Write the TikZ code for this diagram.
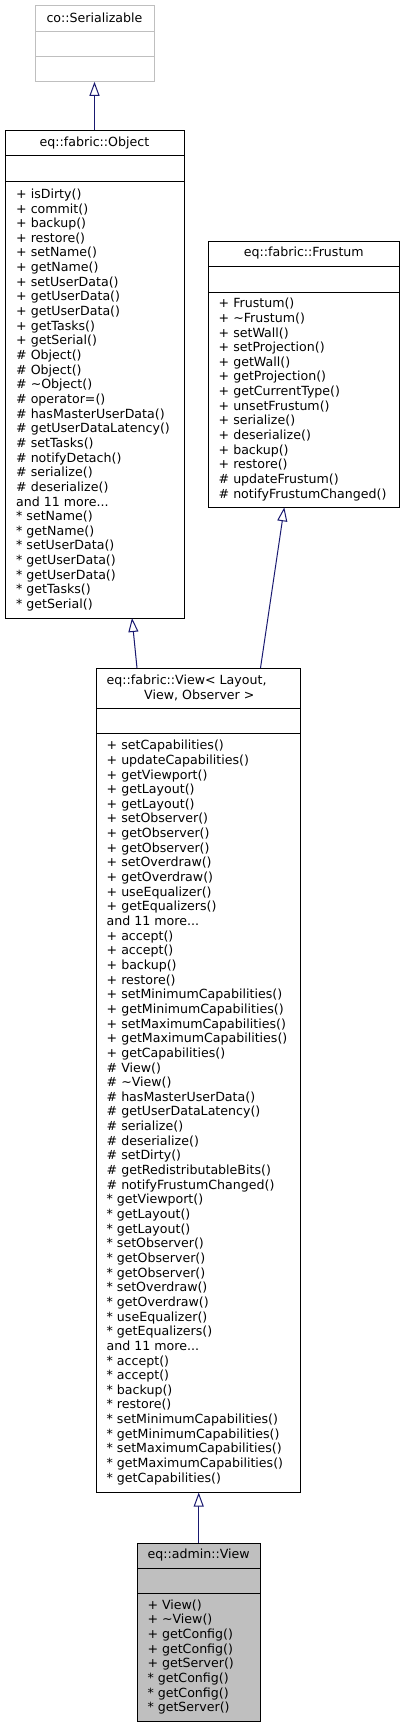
\documentclass[tikz,border=0pt]{standalone}
\usepackage{fontspec}
\setmainfont{DejaVu Sans}
\usetikzlibrary{arrows.meta}
\definecolor{edgeblue}{HTML}{191970}
\definecolor{boxgray}{HTML}{BFBFBF}
\tikzset{
  umlframe/.style={draw=black, line width=1pt, fill=white, inner sep=0pt},
  umlline/.style={draw=black, line width=1pt},
  umltext/.style={inner sep=0pt, font=\fontsize{12.6}{14.65}\selectfont, text=black},
  inherit/.style={draw=edgeblue, line width=1pt, -{Triangle[open, length=14pt, width=10pt, fill=white]}},
}
\begin{document}
\begin{tikzpicture}[x=1pt,y=-1pt]
\useasboundingbox (0,0) rectangle (404,1728);

% co::Serializable
\node[umlframe, draw=boxgray, minimum width=119pt, minimum height=76pt] (ser) at (94.5,43.3) {};
\draw[umlline, draw=boxgray] (35,31.3) -- (154,31.3);
\draw[umlline, draw=boxgray] (35,56.7) -- (154,56.7);
\node[umltext] (ser-h) at (94.5,18.3) {co::Serializable};

% eq::fabric::Object
\node[umlframe, minimum width=179pt, minimum height=487pt] (obj) at (94.5,374.5) {};
\draw[umlline] (5,156) -- (184,156);
\draw[umlline] (5,182) -- (184,182);
\node[umltext] (obj-h) at (94.5,143.5) {eq::fabric::Object};
\node[umltext, anchor=west, align=left] (obj-b) at (16,400) {%
+ isDirty()\\
+ commit()\\
+ backup()\\
+ restore()\\
+ setName()\\
+ getName()\\
+ setUserData()\\
+ getUserData()\\
+ getUserData()\\
+ getTasks()\\
+ getSerial()\\
\# Object()\\
\# Object()\\
\# \textasciitilde Object()\\
\# operator=()\\
\# hasMasterUserData()\\
\# getUserDataLatency()\\
\# setTasks()\\
\# notifyDetach()\\
\# serialize()\\
\# deserialize()\\
and 11 more...\\
* setName()\\
* getName()\\
* setUserData()\\
* getUserData()\\
* getUserData()\\
* getTasks()\\
* getSerial()};

% eq::fabric::Frustum
\node[umlframe, minimum width=191pt, minimum height=266pt] (fru) at (303.8,374.3) {};
\draw[umlline] (208.3,266) -- (399.3,266);
\draw[umlline] (208.3,292) -- (399.3,292);
\node[umltext] (fru-h) at (303.8,253.5) {eq::fabric::Frustum};
\node[umltext, anchor=west, align=left] (fru-b) at (218.5,399.5) {%
+ Frustum()\\
+ \textasciitilde Frustum()\\
+ setWall()\\
+ setProjection()\\
+ getWall()\\
+ getProjection()\\
+ getCurrentType()\\
+ unsetFrustum()\\
+ serialize()\\
+ deserialize()\\
+ backup()\\
+ restore()\\
\# updateFrustum()\\
\# notifyFrustumChanged()};

% eq::fabric::View< Layout, View, Observer >
\node[umlframe, minimum width=204pt, minimum height=824pt] (view) at (198.7,1080) {};
\draw[umlline] (96.7,708) -- (300.7,708);
\draw[umlline] (96.7,733) -- (300.7,733);
\node[umltext, anchor=west, align=left] (view-h) at (106.5,688) {eq::fabric::View< Layout,\\\hspace*{37.5pt}View, Observer >};
\node[umltext, anchor=west, align=left] (view-b) at (106.5,1112.5) {%
+ setCapabilities()\\
+ updateCapabilities()\\
+ getViewport()\\
+ getLayout()\\
+ getLayout()\\
+ setObserver()\\
+ getObserver()\\
+ getObserver()\\
+ setOverdraw()\\
+ getOverdraw()\\
+ useEqualizer()\\
+ getEqualizers()\\
and 11 more...\\
+ accept()\\
+ accept()\\
+ backup()\\
+ restore()\\
+ setMinimumCapabilities()\\
+ getMinimumCapabilities()\\
+ setMaximumCapabilities()\\
+ getMaximumCapabilities()\\
+ getCapabilities()\\
\# View()\\
\# \textasciitilde View()\\
\# hasMasterUserData()\\
\# getUserDataLatency()\\
\# serialize()\\
\# deserialize()\\
\# setDirty()\\
\# getRedistributableBits()\\
\# notifyFrustumChanged()\\
* getViewport()\\
* getLayout()\\
* getLayout()\\
* setObserver()\\
* getObserver()\\
* getObserver()\\
* setOverdraw()\\
* getOverdraw()\\
* useEqualizer()\\
* getEqualizers()\\
and 11 more...\\
* accept()\\
* accept()\\
* backup()\\
* restore()\\
* setMinimumCapabilities()\\
* getMinimumCapabilities()\\
* setMaximumCapabilities()\\
* getMaximumCapabilities()\\
* getCapabilities()};

% eq::admin::View
\node[umlframe, fill=boxgray, minimum width=122.7pt, minimum height=178pt] (adm) at (198.7,1632) {};
\draw[umlline] (137.3,1568) -- (260,1568);
\draw[umlline] (137.3,1593) -- (260,1593);
\node[umltext] (adm-h) at (198.7,1555.5) {eq::admin::View};
\node[umltext, anchor=west, align=left] (adm-b) at (147.3,1657) {%
+ View()\\
+ \textasciitilde View()\\
+ getConfig()\\
+ getConfig()\\
+ getServer()\\
* getConfig()\\
* getConfig()\\
* getServer()};

% connector end points
\coordinate (viewL) at (137,668);
\coordinate (objB) at (132,618);
\coordinate (viewR) at (260.5,668);
\coordinate (fruB) at (284.3,507.3);

% inheritance connectors
\draw[inherit] (obj.north) -- (ser.south);
\draw[inherit] (viewL) -- (objB);
\draw[inherit] (viewR) -- (fruB);
\draw[inherit] (adm.north) -- (view.south);
\end{tikzpicture}
\end{document}
